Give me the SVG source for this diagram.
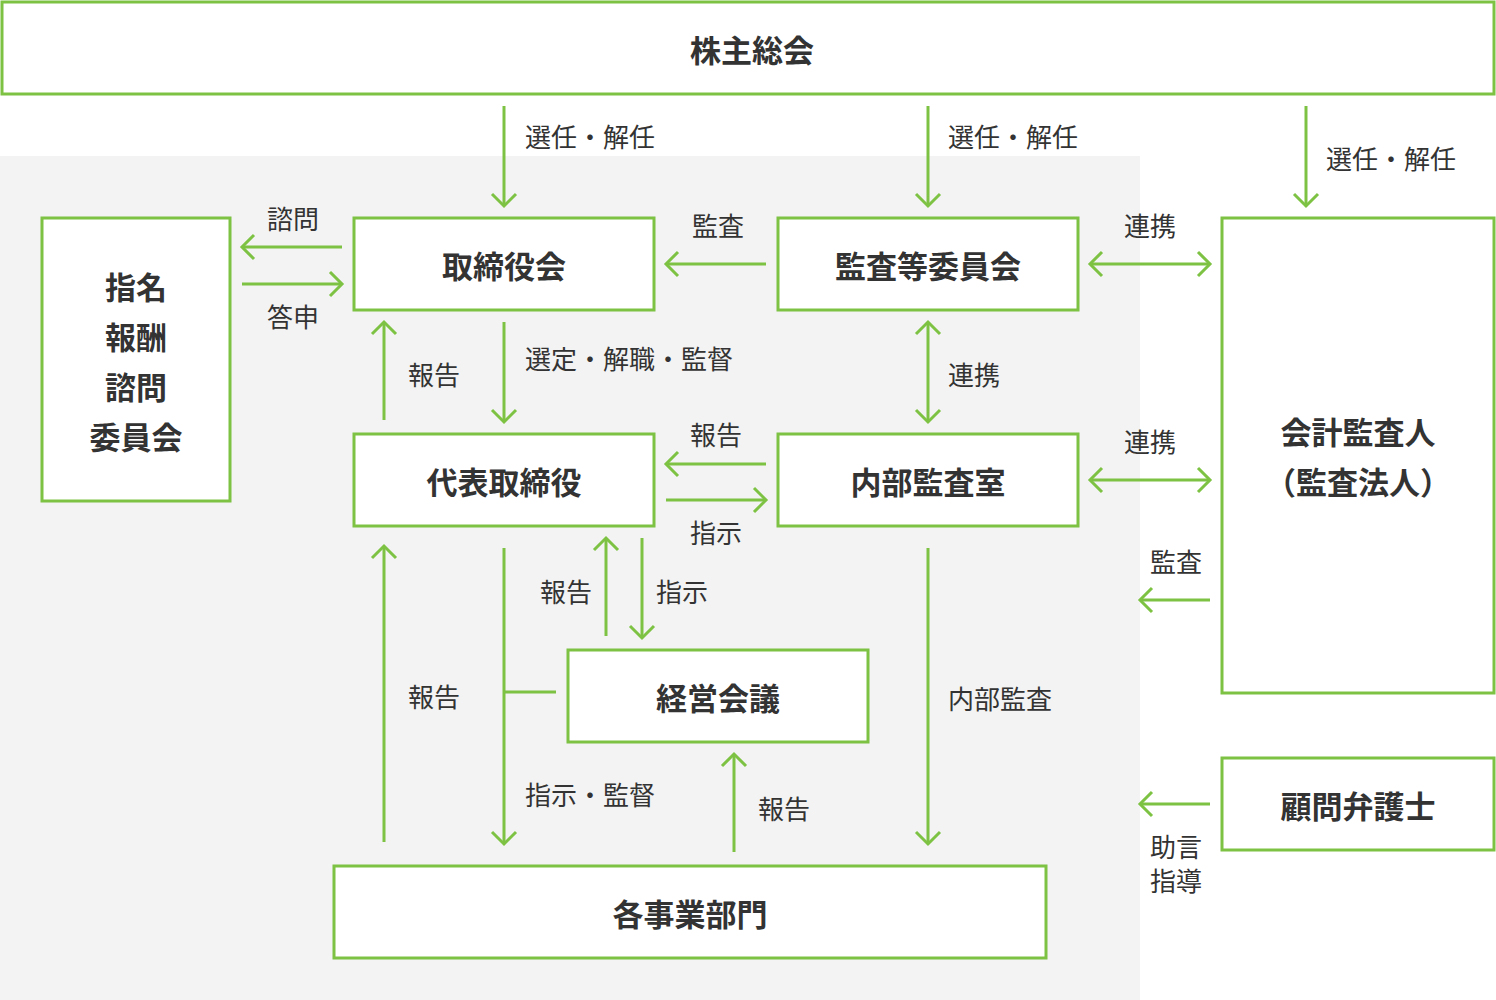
<svg xmlns="http://www.w3.org/2000/svg" width="1496" height="1000" viewBox="0 0 1496 1000">
<style>
.b{fill:#fff;stroke:#7dc242;stroke-width:3}
.t{font-family:"Noto Sans CJK JP","Noto Sans",sans-serif;font-weight:bold;font-size:31px;fill:#333;text-anchor:middle;dominant-baseline:central}
.l{font-family:"Noto Sans CJK JP","Noto Sans",sans-serif;font-size:26px;fill:#333;dominant-baseline:central}
.c{text-anchor:middle}
.a{stroke:#7dc242;stroke-width:3;fill:none}
</style>
<defs>
<marker id="m" markerUnits="userSpaceOnUse" markerWidth="30" markerHeight="30" refX="15" refY="15" orient="auto-start-reverse" viewBox="0 0 30 30">
<path d="M3,3 L15,15 L3,27" fill="none" stroke="#7dc242" stroke-width="3"/>
</marker>
</defs>
<rect x="0" y="156" width="1140" height="844" fill="#f3f3f3"/>
<g id="kabunushi"><rect class="b" x="2" y="2" width="1492" height="92"/><text class="t" x="752" y="48">株主総会</text></g>
<g id="shimei"><rect class="b" x="42" y="218" width="188" height="283"/><text class="t" x="136" y="285">指名</text><text class="t" x="136" y="335">報酬</text><text class="t" x="136" y="385">諮問</text><text class="t" x="136" y="435">委員会</text></g>
<g id="torishimariyakukai"><rect class="b" x="354" y="218" width="300" height="92"/><text class="t" x="504" y="264">取締役会</text></g>
<g id="kansatou"><rect class="b" x="778" y="218" width="300" height="92"/><text class="t" x="928" y="264">監査等委員会</text></g>
<g id="kaikei"><rect class="b" x="1222" y="218" width="272" height="475"/><text class="t" x="1358" y="430">会計監査人</text><text class="t" x="1358" y="480">（監査法人）</text></g>
<g id="daihyou"><rect class="b" x="354" y="434" width="300" height="92"/><text class="t" x="504" y="480">代表取締役</text></g>
<g id="naibu"><rect class="b" x="778" y="434" width="300" height="92"/><text class="t" x="928" y="480">内部監査室</text></g>
<g id="keiei"><rect class="b" x="568" y="650" width="300" height="92"/><text class="t" x="718" y="696">経営会議</text></g>
<g id="jigyou"><rect class="b" x="334" y="866" width="712" height="92"/><text class="t" x="690" y="912">各事業部門</text></g>
<g id="komon"><rect class="b" x="1222" y="758" width="272" height="92"/><text class="t" x="1358" y="804">顧問弁護士</text></g>
<g id="connectors">
<path class="a" d="M504,106V206" marker-end="url(#m)"/>
<path class="a" d="M928,106V206" marker-end="url(#m)"/>
<path class="a" d="M1306,106V206" marker-end="url(#m)"/>
<path class="a" d="M342,247H242" marker-end="url(#m)"/>
<path class="a" d="M242,284H342" marker-end="url(#m)"/>
<path class="a" d="M766,264H666" marker-end="url(#m)"/>
<path class="a" d="M1090,264H1210" marker-start="url(#m)" marker-end="url(#m)"/>
<path class="a" d="M384,420V322" marker-end="url(#m)"/>
<path class="a" d="M504,322V422" marker-end="url(#m)"/>
<path class="a" d="M928,322V422" marker-start="url(#m)" marker-end="url(#m)"/>
<path class="a" d="M766,464H666" marker-end="url(#m)"/>
<path class="a" d="M666,500H766" marker-end="url(#m)"/>
<path class="a" d="M1090,480H1210" marker-start="url(#m)" marker-end="url(#m)"/>
<path class="a" d="M1210,600H1140" marker-end="url(#m)"/>
<path class="a" d="M606,636V538" marker-end="url(#m)"/>
<path class="a" d="M642,538V638" marker-end="url(#m)"/>
<path class="a" d="M384,842V546" marker-end="url(#m)"/>
<path class="a" d="M504,548V844" marker-end="url(#m)"/>
<path class="a" d="M504,692H556"/>
<path class="a" d="M734,852V754" marker-end="url(#m)"/>
<path class="a" d="M928,548V844" marker-end="url(#m)"/>
<path class="a" d="M1210,804H1140" marker-end="url(#m)"/>
</g>
<g id="labels">
<text class="l" x="525" y="135">選任・解任</text>
<text class="l" x="948" y="135">選任・解任</text>
<text class="l" x="1326" y="157">選任・解任</text>
<text class="l c" x="293" y="217">諮問</text>
<text class="l c" x="293" y="315">答申</text>
<text class="l c" x="718" y="224">監査</text>
<text class="l c" x="1150" y="224">連携</text>
<text class="l c" x="434" y="373">報告</text>
<text class="l" x="525" y="357">選定・解職・監督</text>
<text class="l" x="948" y="373">連携</text>
<text class="l c" x="716" y="433">報告</text>
<text class="l c" x="716" y="531">指示</text>
<text class="l c" x="1150" y="440">連携</text>
<text class="l c" x="1176" y="560">監査</text>
<text class="l c" x="566" y="590">報告</text>
<text class="l c" x="682" y="590">指示</text>
<text class="l c" x="434" y="695">報告</text>
<text class="l" x="525" y="793">指示・監督</text>
<text class="l c" x="784" y="807">報告</text>
<text class="l" x="948" y="697">内部監査</text>
<text class="l c" x="1176" y="845">助言</text>
<text class="l c" x="1176" y="879">指導</text>
</g>
</svg>
